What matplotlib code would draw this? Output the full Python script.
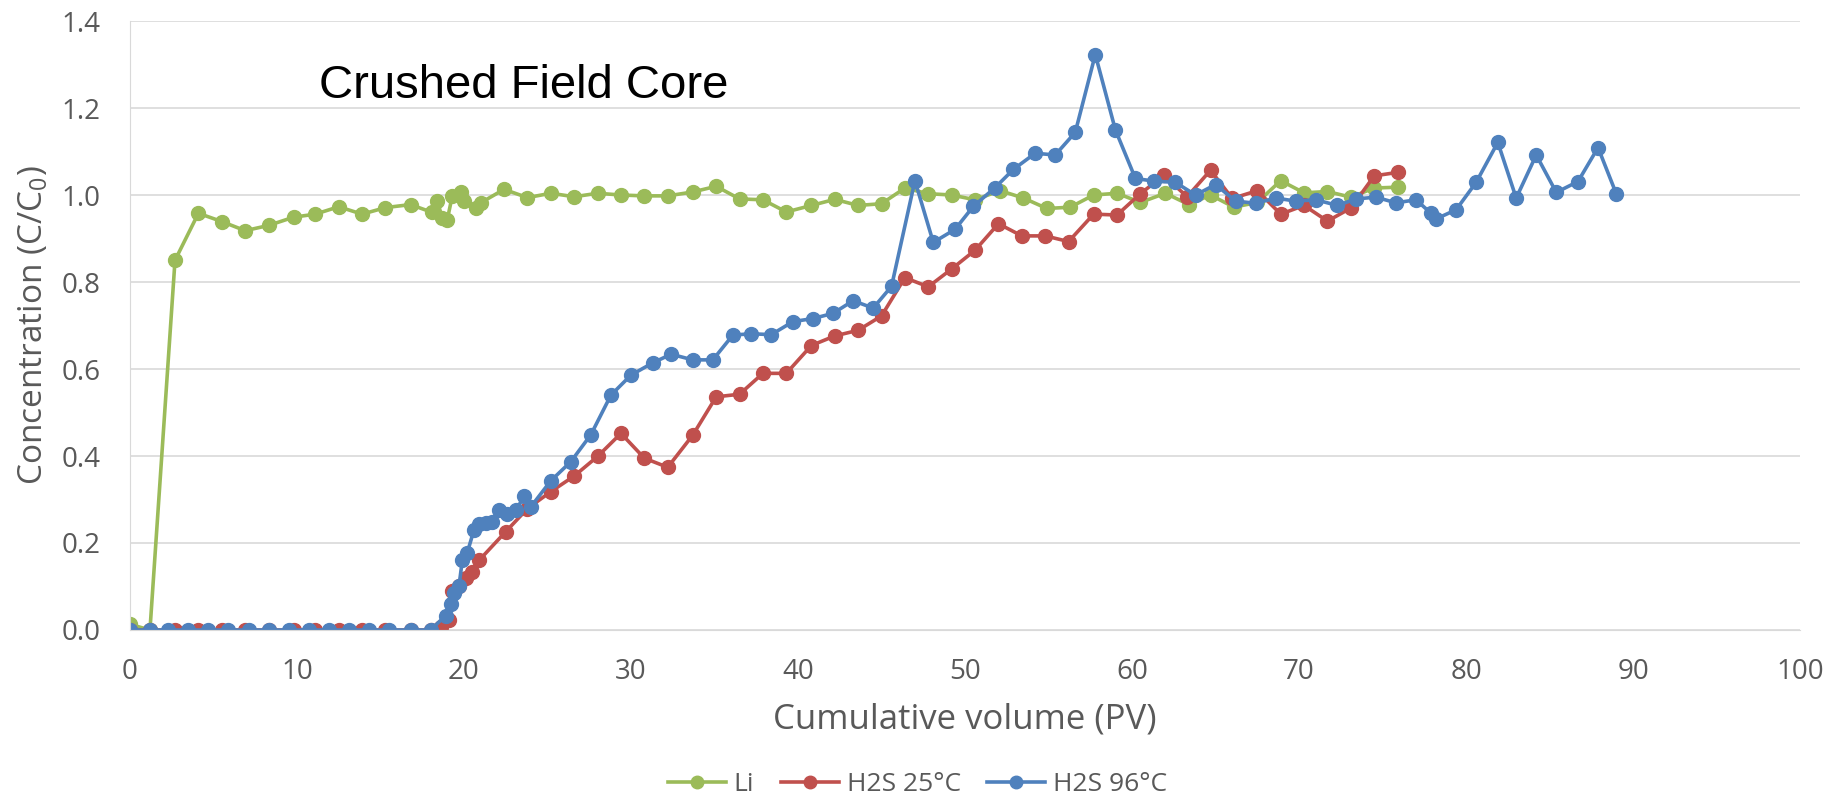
import numpy as np
import matplotlib
matplotlib.use("Agg")
import matplotlib.pyplot as plt

# Li tracer
li_x = [0, 1.2, 2.7, 4.1, 5.5, 6.9, 8.3, 9.8, 11.1, 12.5, 13.9, 15.3, 16.8,
        18.1, 18.4, 18.7, 19.0, 19.3, 19.8, 20.0, 20.7, 21.0, 22.4, 23.8, 25.2,
        26.6, 28.0, 29.4, 30.8, 32.2, 33.7, 35.1, 36.5, 37.9, 39.3, 40.8, 42.2,
        43.6, 45.0, 46.4, 47.8, 49.2, 50.6, 52.1, 53.5, 54.9, 56.3, 57.7, 59.1,
        60.5, 62.0, 63.4, 64.7, 66.1, 67.5, 68.9, 70.3, 71.7, 73.1, 74.5, 75.9]
li_y = [0.013, 0, 0.85, 0.958, 0.939, 0.918, 0.93, 0.949, 0.956, 0.973, 0.956, 0.971, 0.978,
        0.96, 0.986, 0.948, 0.943, 0.998, 1.007, 0.986, 0.97, 0.982, 1.013, 0.994, 1.004,
        0.996, 1.004, 1.0, 0.998, 0.998, 1.007, 1.02, 0.991, 0.989, 0.961, 0.976, 0.99,
        0.976, 0.98, 1.016, 1.003, 1.0, 0.989, 1.01, 0.993, 0.969, 0.972, 1.0, 1.004,
        0.983, 1.004, 0.978, 1.0, 0.972, 0.983, 1.033, 1.005, 1.008, 0.995, 1.016, 1.018]

# H2S at 25 C
h25_x = [0, 1.2, 2.7, 4.1, 5.5, 6.9, 8.3, 9.8, 11.1, 12.5, 13.9, 15.3, 16.8, 18.0,
         18.6, 19.1, 19.3, 19.7, 20.1, 20.5, 20.9, 22.5, 23.8, 25.2, 26.6, 28.0,
         29.4, 30.8, 32.2, 33.7, 35.1, 36.5, 37.9, 39.3, 40.8, 42.2, 43.6, 45.0,
         46.4, 47.8, 49.2, 50.6, 52.0, 53.4, 54.8, 56.2, 57.7, 59.1, 60.5, 61.9,
         63.3, 64.7, 66.0, 67.5, 68.9, 70.3, 71.7, 73.1, 74.5, 75.9]
h25_y = [0, 0, 0, 0, 0, 0, 0, 0, 0, 0, 0, 0, 0, 0,
         0.007, 0.023, 0.09, 0.1, 0.12, 0.134, 0.16, 0.226, 0.279, 0.318, 0.354, 0.399,
         0.452, 0.395, 0.374, 0.448, 0.536, 0.542, 0.59, 0.59, 0.654, 0.676, 0.689, 0.722,
         0.81, 0.789, 0.83, 0.873, 0.934, 0.906, 0.906, 0.893, 0.956, 0.954, 1.003, 1.045,
         0.996, 1.057, 0.992, 1.01, 0.956, 0.976, 0.94, 0.97, 1.044, 1.052]

# H2S at 96 C
h96_x = [0, 1.2, 2.3, 3.5, 4.7, 5.9, 7.1, 8.3, 9.5, 10.7, 11.9, 13.1, 14.3, 15.5, 16.8, 18.0,
         18.9, 19.2, 19.4, 19.7, 19.9, 20.2, 20.6, 20.9, 21.3, 21.7, 22.1, 22.6, 23.1,
         23.6, 24.0, 25.2, 26.4, 27.6, 28.8, 30.0, 31.3, 32.4, 33.7, 34.9, 36.1, 37.2,
         38.4, 39.7, 40.9, 42.1, 43.3, 44.5, 45.6, 47.0, 48.1, 49.4, 50.5, 51.8, 52.9,
         54.2, 55.4, 56.6, 57.8, 59.0, 60.2, 61.3, 62.6, 63.8, 65.0, 66.2, 67.4, 68.6,
         69.8, 71.0, 72.3, 73.4, 74.6, 75.8, 77.0, 77.9, 78.2, 79.4, 80.6, 81.9, 83.0,
         84.2, 85.4, 86.7, 87.9, 89.0]
h96_y = [0, 0, 0, 0, 0, 0, 0, 0, 0, 0, 0, 0, 0, 0, 0, 0,
         0.033, 0.06, 0.086, 0.1, 0.16, 0.178, 0.23, 0.244, 0.246, 0.248, 0.277, 0.266, 0.275,
         0.307, 0.283, 0.343, 0.387, 0.449, 0.54, 0.586, 0.614, 0.634, 0.621, 0.621, 0.678, 0.681,
         0.679, 0.709, 0.716, 0.728, 0.757, 0.74, 0.79, 1.033, 0.891, 0.921, 0.974, 1.017, 1.059,
         1.096, 1.092, 1.144, 1.323, 1.15, 1.038, 1.032, 1.029, 1.0, 1.024, 0.986, 0.981, 0.993,
         0.986, 0.989, 0.976, 0.991, 0.995, 0.982, 0.989, 0.958, 0.945, 0.966, 1.029, 1.121, 0.993,
         1.092, 1.006, 1.031, 1.109, 1.002]

plt.rcParams['font.family'] = ['Open Sans', 'DejaVu Sans']

fig = plt.figure(figsize=(18.35, 8.08), dpi=100)
ax = fig.add_axes([0.0708, 0.2203, 0.9102, 0.7537])

kw = dict(marker='o', markersize=10, linewidth=2.6)
ax.plot(li_x, li_y, color='#9BBB59', label='Li', **kw)
ax.plot(h25_x, h25_y, color='#C0504D', label='H2S 25°C', **kw)
ax.plot(h96_x, h96_y, color='#4F81BD', label='H2S 96°C', **kw)

ax.set_xlim(0, 100)
ax.set_ylim(0, 1.4)
ax.set_xticks(np.arange(0, 101, 10))
ax.set_yticks(np.arange(0, 1.41, 0.2))
ax.set_yticklabels([f"{v:.1f}" for v in np.arange(0, 1.41, 0.2)])
ax.yaxis.grid(True, color='#D9D9D9', linewidth=1.2)
ax.set_axisbelow(True)
for s in ['top', 'right']:
    ax.spines[s].set_visible(False)
ax.spines['left'].set_color('#D9D9D9')
ax.spines['bottom'].set_color('#D9D9D9')
ax.tick_params(length=0, labelsize=20, colors='#595959')
ax.tick_params(axis='x', pad=20)
ax.tick_params(axis='y', pad=21)

ax.set_xlabel('Cumulative volume (PV)', fontsize=25, color='#595959', labelpad=12)
ax.set_ylabel(r'Concentration (C/C$_\mathregular{0}$)', fontsize=24, color='#595959', labelpad=8)

ax.text(11.3, 1.25, 'Crushed Field Core', fontsize=34, family='Liberation Sans',
        va='center', ha='left', color='black')

fig.legend(loc='lower center', bbox_to_anchor=(0.5, -0.016), ncol=3, frameon=False,
           fontsize=19, labelcolor='#595959', handlelength=2.2, columnspacing=1.0,
           handletextpad=0.3, markerscale=0.9)

fig.savefig('out.png', dpi=100)
